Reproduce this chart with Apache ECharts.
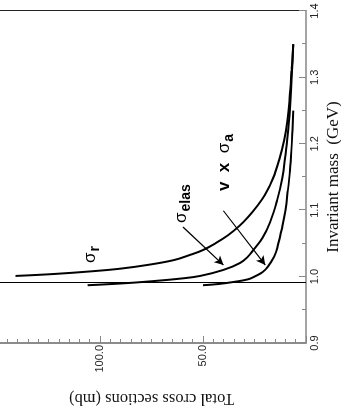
<!DOCTYPE html>
<html>
<head>
<meta charset="utf-8">
<script src="https://cdn.jsdelivr.net/npm/echarts@6/dist/echarts.min.js"></script>
<style>
html,body{margin:0;padding:0;background:#fff;width:341px;height:406px;overflow:hidden;}
#c{position:absolute;left:0;top:0;width:406px;height:361px;transform-origin:0 0;transform:translate(-20px,406px) rotate(-90deg);}
</style>
</head>
<body>
<div id="c"></div>
<script>
// Invariant mass (GeV) / total cross section (mb)
const massR = [1.001,1.004,1.008,1.012,1.018,1.025,1.033,1.040,1.050,1.062,1.076,1.090,1.105,1.123,1.148,1.176,1.206,1.236,1.266,1.31,1.35];
const sigR  = [141,122,104,90,76,64,56,50,44,38,32.5,28,24,20,16,13,10.6,9,8,7,6.2];
const massEl = [0.987,0.990,0.993,0.997,1.001,1.010,1.0205,1.030,1.040,1.058,1.082,1.115,1.148,1.183,1.221,1.266,1.31,1.35];
const sigEl  = [106,88,75,61,51.4,40.2,32,28.2,25.6,21.2,17.4,14,11.5,10,8.6,7.5,6.8,6.2];
const massA = [0.987,0.989,0.992,0.996,1.000,1.007,1.015,1.03,1.045,1.075,1.10,1.13,1.16,1.19,1.22,1.25];
const sigA  = [50,42,35,28,25,21,18.5,15.5,13.8,11.5,10,8.8,7.8,7.1,6.6,6.2];
const threshold = 0.987;
const massTicks = [0.9,1.0,1.1,1.2,1.3,1.4];
const sigmaTicks = [0,50,100,150];
// annotation anchors [mass, sigma]
const labelR = [1.0333,104.9];
const labelEl = [1.110,60.6];
const labelA = [1.1718,39.7];
const arrowEl = [[1.0747,59.7],[1.0175,40.1]];
const arrowA = [[1.0992,40.1],[1.0175,19.8]];

const zip = (a,b)=>a.map((v,i)=>[v,b[i]]);
const chart = echarts.init(document.getElementById('c'), null, {renderer:'canvas'});
const sans = 'Liberation Sans, Arial, sans-serif';
const serif = 'Liberation Serif, Times New Roman, serif';
const axisGrey = '#888';
const curveStyle = {color:'#000', width:2};
const mpLabel = (txt)=>({
  show:true, position:'inside', formatter:txt, color:'#000',
  rich:{
    s:{fontFamily:sans, fontSize:17, color:'#000'},
    b:{fontFamily:sans, fontSize:17, fontWeight:'bold', color:'#000'},
    sub:{fontFamily:sans, fontSize:14, fontWeight:'bold', color:'#000', padding:[10,0,0,1]}
  }
});
const mp = (coord, txt)=>({coord:coord, symbol:'circle', symbolSize:1, itemStyle:{color:'rgba(0,0,0,0)'}, label:mpLabel(txt)});

chart.setOption({
  animation:false,
  backgroundColor:'#fff',
  grid:{left:63, right:11, top:17, bottom:35, containLabel:false, outerBoundsMode:'none'},
  xAxis:{
    type:'value', min:massTicks[0], max:massTicks[massTicks.length-1], interval:0.1,
    axisLine:{show:true, lineStyle:{color:axisGrey, width:1.5}},
    axisTick:{show:true, inside:true, length:7, lineStyle:{color:axisGrey, width:1}},
    minorTick:{show:true, splitNumber:2, length:4, lineStyle:{color:axisGrey, width:1}},
    splitLine:{show:false},
    axisLabel:{show:true, margin:3, fontFamily:sans, fontSize:11, color:'#222', showMinLabel:true, showMaxLabel:true,
      formatter:(v)=>v.toFixed(1)},
    name:'Invariant mass  (GeV)', nameLocation:'middle', nameGap:14,
    nameTextStyle:{fontFamily:serif, fontSize:17, color:'#111'}
  },
  yAxis:[{
    type:'value', min:sigmaTicks[0], max:sigmaTicks[sigmaTicks.length-1], interval:50, position:'left',
    axisLine:{show:true, lineStyle:{color:'#666', width:1.5}},
    axisTick:{show:true, inside:true, length:7, lineStyle:{color:axisGrey, width:1}},
    minorTick:{show:true, splitNumber:10, length:4, lineStyle:{color:axisGrey, width:1}},
    splitLine:{show:false},
    axisLabel:{show:true, margin:2, fontFamily:sans, fontSize:11, color:'#222', showMaxLabel:true,
      formatter:(v)=> v===0 ? '' : v.toFixed(1)},
    name:'Total cross sections (mb)', nameLocation:'middle', nameGap:47,
    nameTextStyle:{fontFamily:serif, fontSize:16.5, color:'#111'}
  },{
    type:'value', min:sigmaTicks[0], max:sigmaTicks[sigmaTicks.length-1], position:'right',
    axisLine:{show:true, lineStyle:{color:'#222', width:1}},
    axisTick:{show:false}, axisLabel:{show:false}, splitLine:{show:false}
  }],
  series:[
    {type:'line', name:'sigma_r', data:zip(massR,sigR), showSymbol:false, smooth:0.4, lineStyle:curveStyle, silent:true,
      markLine:{silent:true, symbol:['none','none'], label:{show:false}, lineStyle:{color:'#000', width:1, type:'solid'},
        data:[{xAxis:threshold}]},
      markPoint:{silent:true, data:[mp(labelR,'{s|σ}{sub|r}')]}
    },
    {type:'line', name:'sigma_elas', data:zip(massEl,sigEl), showSymbol:false, smooth:0.4, lineStyle:curveStyle, silent:true,
      markLine:{silent:true, symbol:['none','arrow'], symbolSize:[7,9], label:{show:false}, lineStyle:{color:'#000', width:1.2, type:'solid'},
        data:[[{coord:arrowEl[0]},{coord:arrowEl[1]}]]},
      markPoint:{silent:true, data:[mp(labelEl,'{s|σ}{sub|elas}')]}
    },
    {type:'line', name:'v x sigma_a', data:zip(massA,sigA), showSymbol:false, smooth:0.4, lineStyle:curveStyle, silent:true,
      markLine:{silent:true, symbol:['none','arrow'], symbolSize:[7,9], label:{show:false}, lineStyle:{color:'#000', width:1.2, type:'solid'},
        data:[[{coord:arrowA[0]},{coord:arrowA[1]}]]},
      markPoint:{silent:true, data:[mp(labelA,'{b|v  x  }{s|σ}{sub|a}')]}
    }
  ]
});
</script>
</body>
</html>
